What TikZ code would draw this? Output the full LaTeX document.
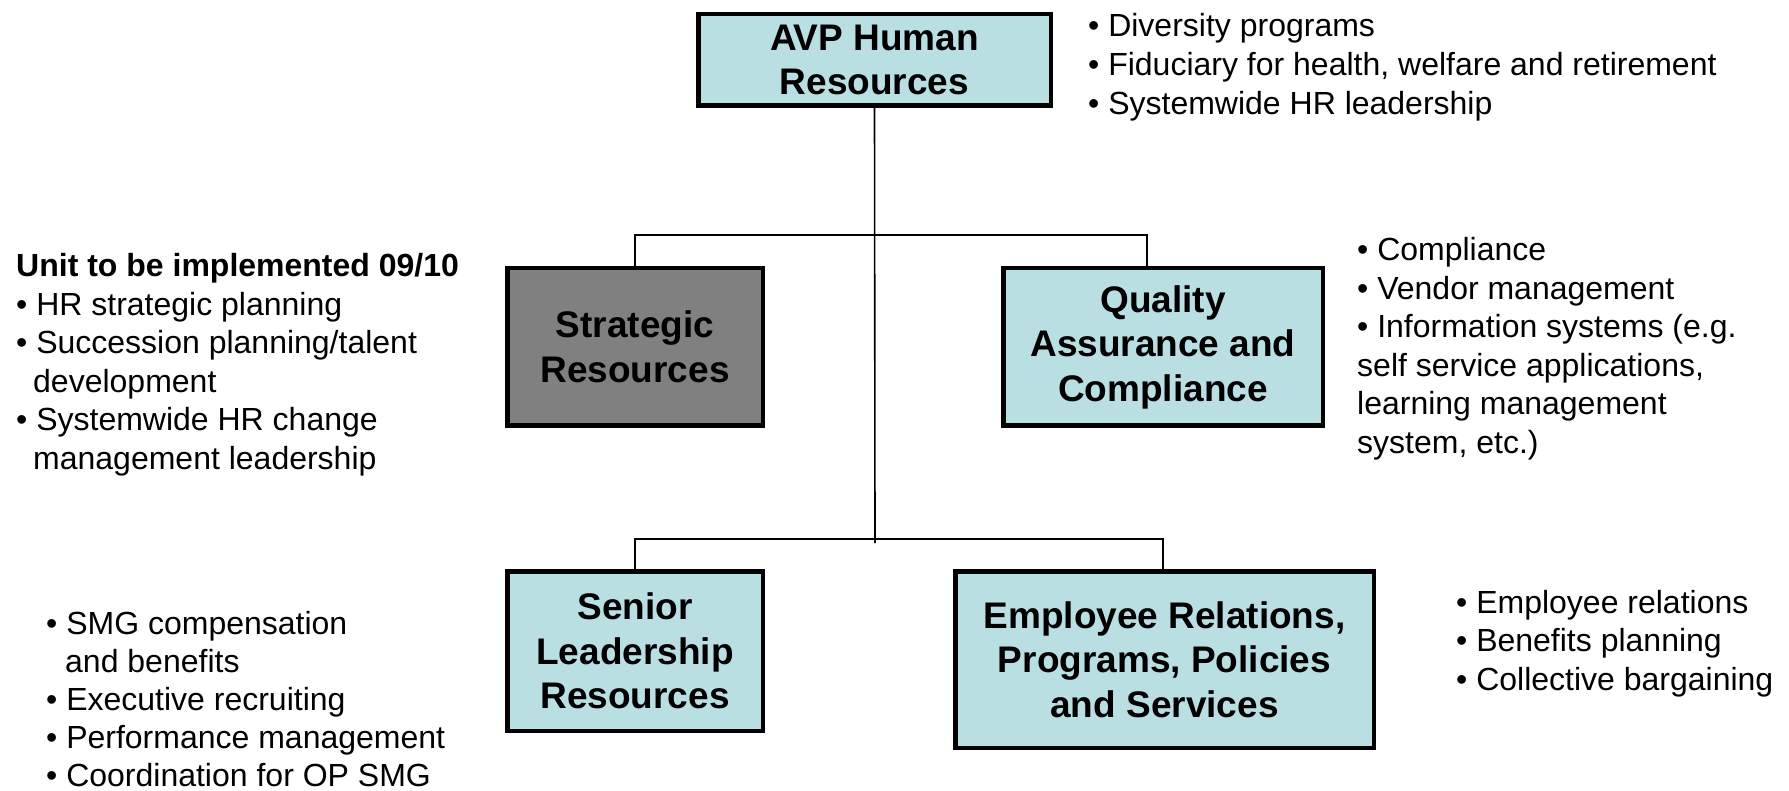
\documentclass[tikz,border=0pt]{standalone}
\usepackage{fontspec}
\setmainfont{Liberation Sans}
\definecolor{boxblue}{HTML}{BADFE3}
\definecolor{boxgray}{HTML}{808080}
\begin{document}
\begin{tikzpicture}[x=1pt,y=-1pt,
  unit/.style={draw=black, line width=4.5pt, fill=boxblue, rectangle, inner sep=0pt,
    align=center, font=\fontsize{37}{44.5}\selectfont\bfseries},
  conn/.style={draw=black, line width=1.6pt},
  txt/.style={anchor=base west, inner sep=0pt, font=\fontsize{32}{38}\selectfont}]
\useasboundingbox (0,0) rectangle (1789,791);
% boxes
\node[unit, minimum width=352.5pt, minimum height=91.5pt] (avp) at (874.5,60) {AVP Human\\Resources};
\node[unit, fill=boxgray, minimum width=255.5pt, minimum height=157.5pt] (strat) at (635,347) {Strategic\\Resources};
\node[unit, minimum width=319.5pt, minimum height=157.5pt] (qa) at (1163,347) {Quality\\Assurance and\\Compliance};
\node[unit, minimum width=255.5pt, minimum height=159.5pt] (sen) at (635,651) {Senior\\Leadership\\Resources};
\node[unit, minimum width=418.5pt, minimum height=176.5pt] (emp) at (1164.5,659.5) {Employee Relations,\\Programs, Policies\\and Services};
% connectors
\coordinate (vend) at (875,543);
\coordinate (qaj) at (1147,235);
\coordinate (emj) at (1163,539);
\draw[conn] (avp.south) -- (vend);
\draw[conn] (strat.north) |- (qaj) -- (qaj |- qa.north);
\draw[conn] (sen.north) |- (emj) -- (emj |- emp.north);
% AVP bullets
\node[txt] (a1) at (1088,37) {• Diversity programs};
\node[txt] (a2) at (1088,76) {• Fiduciary for health, welfare and retirement};
\node[txt] (a3) at (1088,115) {• Systemwide HR leadership};
% Strategic bullets
\node[txt, font=\fontsize{32}{38}\selectfont\bfseries] (s0) at (16,277) {Unit to be implemented 09/10};
\node[txt] (s1) at (16,315.5) {• HR strategic planning};
\node[txt] (s2) at (16,354) {• Succession planning/talent};
\node[txt] (s3) at (33,392.5) {development};
\node[txt] (s4) at (16,431) {• Systemwide HR change};
\node[txt] (s5) at (33,469.5) {management leadership};
% QA bullets
\node[txt] (q1) at (1357,261) {• Compliance};
\node[txt] (q2) at (1357,299.5) {• Vendor management};
\node[txt] (q3) at (1357,338) {• Information systems (e.g.};
\node[txt] (q4) at (1357,376.5) {self service applications,};
\node[txt] (q5) at (1357,415) {learning management};
\node[txt] (q6) at (1357,453.5) {system, etc.)};
% Senior bullets
\node[txt] (m1) at (46,634) {• SMG compensation};
\node[txt] (m2) at (65,672) {and benefits};
\node[txt] (m3) at (46,710) {• Executive recruiting};
\node[txt] (m4) at (46,748) {• Performance management};
\node[txt] (m5) at (46,786) {• Coordination for OP SMG};
% Employee bullets
\node[txt] (e1) at (1456,613) {• Employee relations};
\node[txt] (e2) at (1456,651.5) {• Benefits planning};
\node[txt] (e3) at (1456,690) {• Collective bargaining};
\end{tikzpicture}
\end{document}
